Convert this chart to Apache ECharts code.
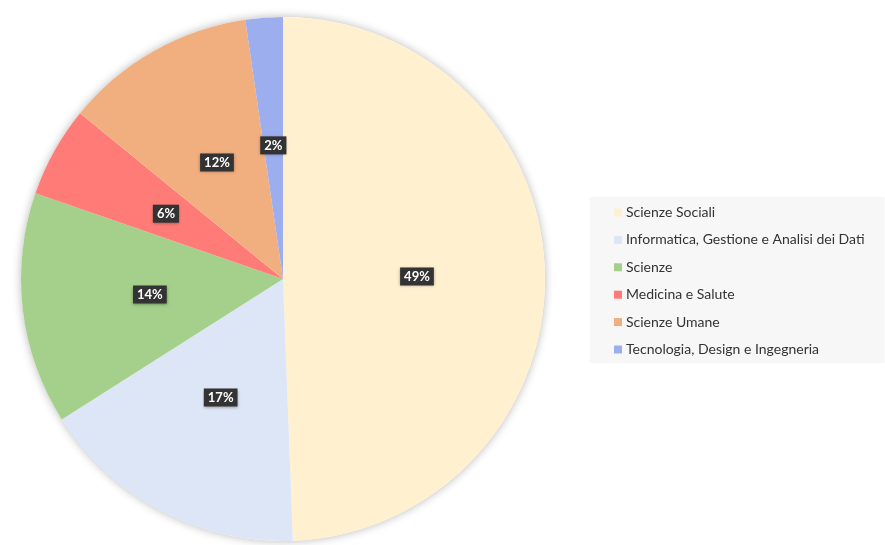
<!DOCTYPE html>
<html>
<head>
<meta charset="utf-8">
<script src="https://cdn.jsdelivr.net/npm/echarts@6/dist/echarts.min.js"></script>
<style>
    html, body { margin: 0; padding: 0; background: #fff; }
    #chart { width: 885px; height: 545px; }
</style>
</head>
<body>
<div id="chart"></div>
<script>
// categorie e valori (percentuali)
var categories = ['Scienze Sociali', 'Informatica, Gestione e Analisi dei Dati', 'Scienze', 'Medicina e Salute', 'Scienze Umane', 'Tecnologia, Design e Ingegneria'];
var values = [49.4, 16.6, 14.3, 5.6, 11.8, 2.3];
var colors = ['#FFF0CF', '#DCE6F6', '#A4D08B', '#FF7B77', '#F1AE7F', '#9CAEEE'];

function pieData() {
    var list = [];
    for (var i = 0; i < categories.length; i++) {
        list.push({
            name: categories[i],
            value: values[i],
            itemStyle: { color: colors[i] }
        });
    }
    return list;
}

var myChart = echarts.init(document.getElementById('chart'));
var option = {
    animation: false,
    backgroundColor: '#fff',
    legend: {
        data: categories,
        orient: 'vertical',
        left: 590,
        top: 197,
        backgroundColor: '#F7F7F7',
        padding: [8, 20, 6, 24],
        itemWidth: 8,
        itemHeight: 8,
        itemGap: 12.4,
        icon: 'rect',
        selectedMode: false,
        textStyle: {
            fontFamily: 'Lato',
            fontSize: 14,
            color: '#333',
            lineHeight: 15,
            padding: [0, 0, 0, -1]
        }
    },
    series: [
        {
            // ombra del cerchio
            type: 'pie',
            silent: true,
            center: [283, 279],
            radius: 262,
            z: 1,
            label: { show: false },
            labelLine: { show: false },
            itemStyle: {
                color: '#fff',
                shadowBlur: 10,
                shadowColor: 'rgba(0,0,0,0.28)'
            },
            data: [{ name: '', value: 1 }]
        },
        {
            type: 'pie',
            center: [283, 279],
            radius: 262,
            startAngle: 90,
            clockwise: true,
            z: 2,
            emphasis: { disabled: true },
            itemStyle: { borderWidth: 0 },
            label: {
                show: true,
                position: 'inside',
                formatter: function (p) {
                    return Math.round(p.percent) + '%';
                },
                color: '#fff',
                fontFamily: 'Lato',
                fontWeight: 'bold',
                fontSize: 13,
                backgroundColor: '#333333',
                padding: [3, 4, 2, 4],
                shadowBlur: 3,
                shadowOffsetY: 1,
                shadowColor: 'rgba(0,0,0,0.35)'
            },
            labelLine: { show: false },
            data: pieData()
        }
    ]
};
myChart.setOption(option);
</script>
</body>
</html>
